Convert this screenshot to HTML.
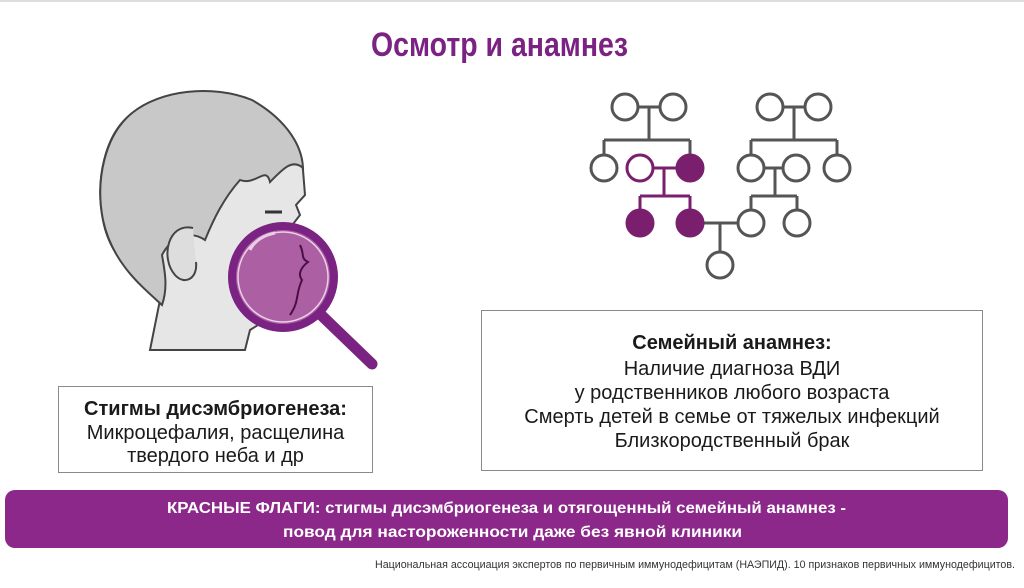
<!DOCTYPE html>
<html><head><meta charset="utf-8"><style>
body{margin:0;width:1024px;height:588px;background:#fff;position:relative;overflow:hidden;font-family:"Liberation Sans",sans-serif}
.a{position:absolute;white-space:nowrap}
.fit{display:inline-block;transform-origin:0 0}
.box{position:absolute;border:1.5px solid #8a8a8a;box-sizing:border-box;background:#fff}
.c{position:absolute;left:0;right:0;text-align:center;font-size:20px;color:#1a1a1a;line-height:24px}
</style></head><body>
<div style="position:absolute;left:0;top:0;width:1024px;height:2px;background:#ddd"></div>
<div class="a fit" data-w="257" style="left:371px;top:26px;font-size:34px;font-weight:bold;color:#7b2382">Осмотр и анамнез</div>

<svg class="a" style="left:0;top:0" width="1024" height="588">
 <!-- child head -->
 <path d="M150 350 L160 300 C140 280 110 260 103 220 C95 180 105 135 130 115 C160 90 210 85 250 100 C280 115 300 140 303 170 L305 195 L296 205 L300 215 L290 228 L298 300 L250 330 L245 350 Z" fill="#e6e6e6" stroke="#444" stroke-width="2"/>
 <path d="M103 220 C95 180 105 135 132 113 C160 90 212 84 252 100 C282 117 302 142 303 168 C292 158 282 170 270 182 C266 165 256 186 240 180 C224 198 214 218 205 240 C190 230 172 236 162 255 C165 272 168 288 162 305 C140 285 112 262 103 220 Z" fill="#c8c8c8" stroke="#444" stroke-width="2"/>
 <path d="M193 228 C168 222 160 258 175 275 C185 286 198 278 196 262" fill="#ddd" stroke="#444" stroke-width="2"/>
 <path d="M265 212 L282 212" stroke="#333" stroke-width="3"/>
 <!-- magnifier -->
 <line x1="318" y1="312" x2="372" y2="364" stroke="#7b2382" stroke-width="11" stroke-linecap="round"/>
 <circle cx="283" cy="277" r="51" fill="#ac5fa3" stroke="#7b2382" stroke-width="8"/>
 <circle cx="283" cy="277" r="45" fill="none" stroke="#e8d0e6" stroke-width="1.5"/>
 <path d="M250 250 C255 240 265 235 275 233" stroke="#e9cde6" stroke-width="3" fill="none"/>
 <path d="M300 245 C305 255 300 258 308 262 C300 268 298 275 302 280 C295 295 300 300 290 315" stroke="#4a0f45" stroke-width="2" fill="none"/>
 <!-- pedigree -->
 <g stroke="#555" stroke-width="3" fill="none">
  <line x1="638" y1="107" x2="660" y2="107"/><line x1="649" y1="107" x2="649" y2="140"/>
  <line x1="604" y1="140" x2="690" y2="140"/><line x1="604" y1="140" x2="604" y2="155"/><line x1="690" y1="140" x2="690" y2="155"/>
  <line x1="783" y1="107" x2="805" y2="107"/><line x1="794" y1="107" x2="794" y2="140"/>
  <line x1="751" y1="140" x2="837" y2="140"/><line x1="751" y1="140" x2="751" y2="155"/><line x1="837" y1="140" x2="837" y2="155"/>
  <line x1="764" y1="168" x2="783" y2="168"/><line x1="775" y1="168" x2="775" y2="196"/>
  <line x1="751" y1="196" x2="797" y2="196"/><line x1="751" y1="196" x2="751" y2="210"/><line x1="797" y1="196" x2="797" y2="210"/>
  <line x1="703" y1="223" x2="738" y2="223"/><line x1="720" y1="223" x2="720" y2="252"/>
  <circle cx="625" cy="107" r="13"/><circle cx="673" cy="107" r="13"/>
  <circle cx="770" cy="107" r="13"/><circle cx="818" cy="107" r="13"/>
  <circle cx="604" cy="168" r="13"/><circle cx="751" cy="168" r="13"/><circle cx="796" cy="168" r="13"/><circle cx="837" cy="168" r="13"/>
  <circle cx="751" cy="223" r="13"/><circle cx="797" cy="223" r="13"/><circle cx="720" cy="265" r="13"/>
 </g>
 <g stroke="#7a1f6e" stroke-width="3">
  <line x1="653" y1="168" x2="677" y2="168"/><line x1="664" y1="168" x2="664" y2="196"/>
  <line x1="640" y1="196" x2="690" y2="196"/><line x1="640" y1="196" x2="640" y2="210"/><line x1="690" y1="196" x2="690" y2="210"/>
  <circle cx="640" cy="168" r="13" fill="#fff"/>
  <circle cx="690" cy="168" r="13" fill="#7a1f6e"/>
  <circle cx="640" cy="223" r="13" fill="#7a1f6e"/>
  <circle cx="690" cy="223" r="13" fill="#7a1f6e"/>
 </g>
</svg>

<div class="box" style="left:58px;top:386px;width:315px;height:87px">
 <div class="c" style="top:10px;font-weight:bold">Стигмы дисэмбриогенеза:</div>
 <div class="c" style="top:34px">Микроцефалия, расщелина</div>
 <div class="c" style="top:57px">твердого неба и др</div>
</div>
<div class="box" style="left:481px;top:310px;width:502px;height:161px">
 <div class="c" style="top:20px;font-weight:bold">Семейный анамнез:</div>
 <div class="c" style="top:46px">Наличие диагноза ВДИ</div>
 <div class="c" style="top:70px">у родственников любого возраста</div>
 <div class="c" style="top:94px">Смерть детей в семье от тяжелых инфекций</div>
 <div class="c" style="top:118px">Близкородственный брак</div>
</div>

<div style="position:absolute;left:5px;top:490px;width:1003px;height:58px;background:#8b288a;border-radius:10px"></div>
<div class="a fit" data-w="679" style="left:167px;top:500px;font-size:16px;font-weight:bold;color:#fff">КРАСНЫЕ ФЛАГИ: стигмы дисэмбриогенеза и отягощенный семейный анамнез -</div>
<div class="a fit" data-w="459" style="left:283px;top:524px;font-size:16px;font-weight:bold;color:#fff">повод для настороженности даже без явной клиники</div>
<div class="a fit" data-w="640" style="left:375px;top:559px;font-size:11px;color:#333">Национальная ассоциация экспертов по первичным иммунодефицитам (НАЭПИД). 10 признаков первичных иммунодефицитов.</div>
<script>
document.querySelectorAll('.fit').forEach(function(e){var w=e.getBoundingClientRect().width;var t=+e.dataset.w;if(w>0)e.style.transform='scaleX('+(t/w)+')';});
</script>
</body></html>
